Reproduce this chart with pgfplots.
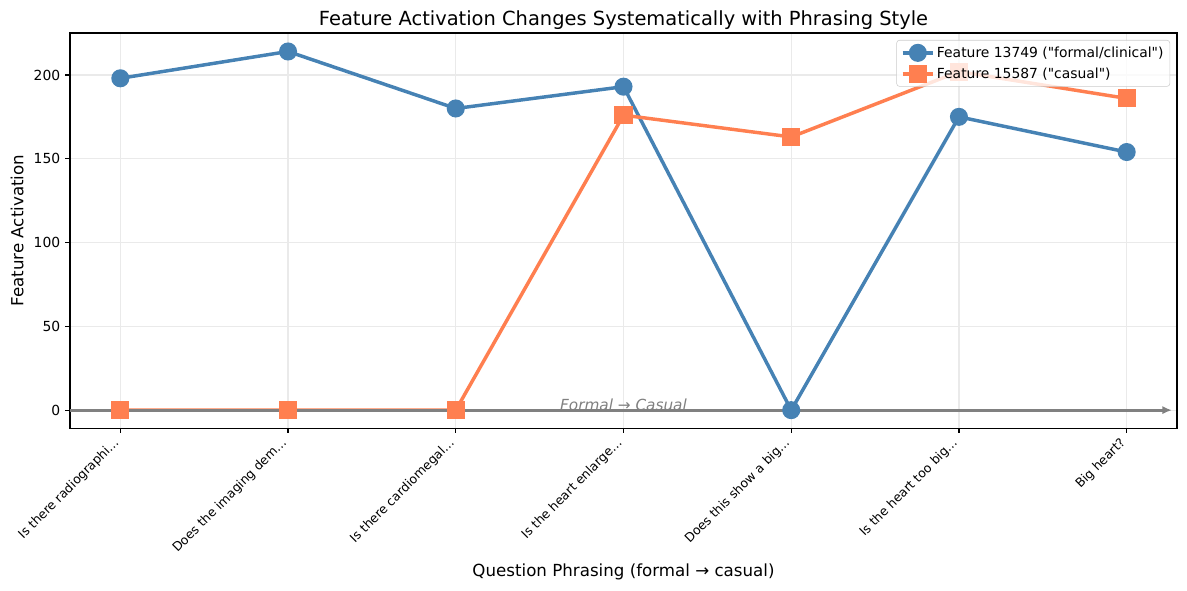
\documentclass[border=0pt]{standalone}
\usepackage{fontspec}
\setmainfont{DejaVu Sans}[Ligatures=TeXOff]
\usepackage{pgfplots}
\pgfplotsset{compat=1.18}
\usetikzlibrary{arrows.meta}

\definecolor{steelblue}{RGB}{70,130,180}
\definecolor{coral}{RGB}{255,127,80}
\definecolor{mplgray}{RGB}{128,128,128}
\definecolor{gridgray}{RGB}{234,234,234}
\definecolor{legendedge}{RGB}{204,204,204}

\begin{document}
\begin{tikzpicture}
\begin{axis}[
    name=ax,
    set layers=standard,
    scale only axis,
    width=797pt, height=284.4pt,
    xmin=-0.3, xmax=6.3,
    ymin=-10.7, ymax=225,
    axis line style={line width=0.8pt, black},
    tick align=outside,
    xtick pos=bottom, ytick pos=left,
    major tick length=3.5pt,
    every tick/.style={black, line width=0.8pt},
    xtick={0,1,2,3,4,5,6},
    xticklabels={Is there radiographi…, Does the imaging dem…, Is there cardiomegal…,
                 Is the heart enlarge…, Does this show a big…, Is the heart too big…, Big heart?},
    xticklabel style={xshift=-5.5pt, yshift=-1pt, rotate=45, anchor=north east, inner sep=1pt,
                      font=\fontsize{9}{11}\selectfont},
    ytick={0,50,100,150,200},
    yticklabel style={font=\fontsize{10}{12}\selectfont},
    /pgf/number format/assume math mode=true,
    grid=major,
    grid style={gridgray, line width=0.8pt},
    title={Feature Activation Changes Systematically with Phrasing Style},
    title style={font=\fontsize{14}{17}\selectfont, at={(0.5,1)}, anchor=south, inner sep=0pt, yshift=-3.6pt},
    xlabel={Question Phrasing (formal → casual)},
    xlabel style={font=\fontsize{12}{14}\selectfont, at={([yshift=-107pt]axis description cs:0.5,0)}, anchor=base, inner sep=0pt},
    ylabel={Feature Activation},
    ylabel style={font=\fontsize{12}{14}\selectfont, at={([xshift=-33.5pt]axis description cs:0,0.5)}, anchor=base, inner sep=0pt},
    legend style={at={(1,1)}, anchor=north east, xshift=-5pt, yshift=-5pt,
                  draw=legendedge, rounded corners=2pt, fill=white, fill opacity=0.8, text opacity=1,
                  font=\fontsize{10}{12}\selectfont, inner xsep=3pt, inner ysep=3pt,
                  row sep=3pt, nodes={inner sep=1.5pt}},
    legend cell align=left,
    legend image code/.code={\draw[mark repeat=2, mark phase=2, opacity=1] plot coordinates {(0pt,0pt) (11pt,0pt) (22pt,0pt)};},
    every axis plot/.append style={on layer=pre main},
]

\addplot[steelblue, line width=2.5pt, mark=*, mark size=6pt,
         mark options={line width=1pt, fill=steelblue, draw=steelblue}]
  coordinates {(0,198) (1,214) (2,180) (3,193) (4,0) (5,175) (6,154)};
\addlegendentry{Feature 13749 ("formal/clinical")}

\addplot[coral, line width=2.5pt, mark=square*, mark size=6pt,
         mark options={line width=1pt, fill=coral, draw=coral}]
  coordinates {(0,0) (1,0) (2,0) (3,176) (4,163) (5,202) (6,186)};
\addlegendentry{Feature 15587 ("casual")}

\addplot[mplgray, line width=2pt, -{Latex[length=7pt, width=6pt]}, forget plot]
  coordinates {(-0.3,0) (6.27,0)};

\node[mplgray, font=\itshape\fontsize{11}{13}\selectfont, anchor=base, inner sep=0pt]
  at (axis cs:3,-0.5) {Formal → Casual};
\end{axis}
\pgfresetboundingbox
\useasboundingbox ([xshift=-50.4pt,yshift=-116.6pt]ax.south west) rectangle ([xshift=7.2pt,yshift=23.8pt]ax.north east);
\end{tikzpicture}
\end{document}
